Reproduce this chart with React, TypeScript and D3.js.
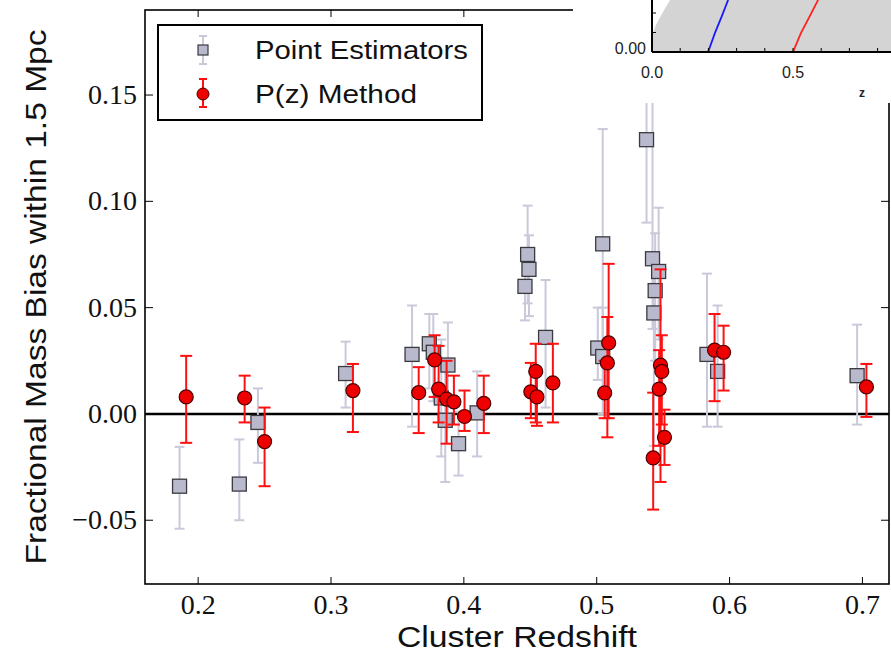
import React from "react";
import * as d3 from "d3";

// Point Estimators (grey squares)
const peZ = [0.186, 0.231, 0.245, 0.311, 0.361, 0.374, 0.377, 0.388, 0.383, 0.386, 0.396, 0.41, 0.448, 0.449, 0.446, 0.4615, 0.5045, 0.5375, 0.542, 0.5466, 0.544, 0.543, 0.5008, 0.5045, 0.583, 0.591, 0.696];
const peV = [-0.034, -0.033, -0.004, 0.019, 0.028, 0.033, 0.029, 0.023, 0.0075, -0.003, -0.014, 0.0005, 0.075, 0.068, 0.06, 0.036, 0.08, 0.129, 0.073, 0.067, 0.058, 0.0475, 0.031, 0.027, 0.028, 0.02, 0.018];
const peLo = [-0.054, -0.05, -0.023, 0.003, -0.006, 0.012, 0.006, -0.005, -0.02, -0.032, -0.029, -0.02, 0.052, 0.046, 0.044, 0.003, 0.024, 0.09, 0.04, 0.035, 0.025, -0.015, 0.016, 0.0, -0.006, -0.006, -0.005];
const peHi = [-0.0155, -0.012, 0.012, 0.034, 0.051, 0.047, 0.047, 0.043, 0.035, 0.02, 0.001, 0.02, 0.098, 0.084, 0.076, 0.063, 0.134, 0.17, 0.17, 0.097, 0.085, 0.075, 0.05, 0.05, 0.066, 0.051, 0.042];

// P(z) Method (red circles)
const pzZ = [0.191, 0.235, 0.25, 0.3165, 0.366, 0.378, 0.381, 0.387, 0.3925, 0.4005, 0.415, 0.4504, 0.4541, 0.455, 0.467, 0.506, 0.509, 0.508, 0.5425, 0.548, 0.549, 0.547, 0.551, 0.5887, 0.5955, 0.703];
const pzV = [0.008, 0.0075, -0.013, 0.011, 0.01, 0.0254, 0.0117, 0.007, 0.0057, -0.0012, 0.005, 0.0104, 0.02, 0.008, 0.0146, 0.0099, 0.0334, 0.024, -0.0207, 0.023, 0.02, 0.0117, -0.011, 0.03, 0.029, 0.0127];
const pzLo = [-0.0136, -0.004, -0.034, -0.0085, -0.009, 0.008, -0.004, -0.014, -0.005, -0.008, -0.009, -0.002, -0.004, -0.0056, -0.004, -0.002, -0.002, -0.011, -0.045, -0.032, -0.005, -0.015, -0.024, 0.006, 0.011, -0.0014];
const pzHi = [0.0273, 0.018, 0.003, 0.0235, 0.022, 0.037, 0.032, 0.025, 0.018, 0.011, 0.018, 0.024, 0.033, 0.02, 0.033, 0.025, 0.0706, 0.0456, 0.01, 0.068, 0.037, 0.03, 0.002, 0.047, 0.0415, 0.0235];

const xTicks = [0.2, 0.3, 0.4, 0.5, 0.6, 0.7];
const yTicks = [-0.05, 0.0, 0.05, 0.1, 0.15];
const legendLabels = ["Point Estimators", "P(z) Method"];

// inset curves
const insetBlueZ = [0.199, 0.223, 0.248, 0.27];
const insetRedZ = [0.5, 0.528, 0.56, 0.589];
const insetCurveY = [0, 0.0097, 0.0185, 0.0267];
const insetEdgeZ = [0, 0, 0.014, 0.039, 0.064];
const insetEdgeY = [0, 0.0087, 0.0138, 0.0205, 0.0267];
const insetXTicks = [0.0, 0.5];
const insetMinor = [0.1, 0.2, 0.3, 0.4, 0.5, 0.6, 0.7, 0.8];

const W = 891, H = 653;
const GREY_BAR = "#c9c9da";
const GREY_FILL = "#b9b9cd";
const RED = "#ff1010";

export default function App() {
  const x = d3.scaleLinear().domain([0.16, 0.72]).range([145, 889]);
  const y = d3.scaleLinear().domain([-0.08, 0.19]).range([584, 10]);
  const fmtY = (v: number) => (v < 0 ? "\u2212" : "") + d3.format(".2f")(Math.abs(v));

  const ix = d3.scaleLinear().domain([0, 0.5]).range([652, 793]);
  const iy = d3.scaleLinear().domain([0, 0.02]).range([52, 13]);
  const line = d3.line<[number, number]>().x((d) => ix(d[0])).y((d) => iy(d[1]));
  const edge = insetEdgeZ.map((z, i) => [z, insetEdgeY[i]] as [number, number]);
  const grayPath =
    line(edge)! + `L${W},${iy(insetEdgeY[insetEdgeY.length - 1])}L${W},${iy(0)}Z`;

  const errBar = (xi: number, lo: number, hi: number, color: string, cap: number, key: string) => (
    <g key={key} stroke={color} strokeWidth={2}>
      <line x1={xi} x2={xi} y1={y(lo)} y2={y(hi)} />
      <line x1={xi - cap} x2={xi + cap} y1={y(lo)} y2={y(lo)} />
      <line x1={xi - cap} x2={xi + cap} y1={y(hi)} y2={y(hi)} />
    </g>
  );

  return (
    <svg width={W} height={H} style={{ position: "absolute", left: 0, top: 0, background: "#fff" }}>
      <rect x={0} y={0} width={W} height={H} fill="#fff" />
      {/* zero line */}
      <line x1={x(0.16)} x2={x(0.72)} y1={y(0)} y2={y(0)} stroke="#000" strokeWidth={2.5} />

      {/* point estimators */}
      {peZ.map((z, i) => errBar(x(z), peLo[i], peHi[i], GREY_BAR, 5, "pe" + i))}
      {peZ.map((z, i) => (
        <rect key={"ps" + i} x={x(z) - 7} y={y(peV[i]) - 7} width={14} height={14}
          fill={GREY_FILL} stroke="#3a3a40" strokeWidth={1.3} />
      ))}

      {/* P(z) method */}
      {pzZ.map((z, i) => errBar(x(z), pzLo[i], pzHi[i], RED, 6, "pz" + i))}
      {pzZ.map((z, i) => (
        <circle key={"pc" + i} cx={x(z)} cy={y(pzV[i])} r={7}
          fill="#ee0000" stroke="#4a0000" strokeWidth={1.2} />
      ))}

      {/* axes frame */}
      <rect x={145} y={10} width={889 - 145} height={584 - 10} fill="none" stroke="#000" strokeWidth={1.6} />
      {xTicks.map((t) => (
        <g key={"xt" + t} stroke="#000" strokeWidth={1}>
          <line x1={x(t)} x2={x(t)} y1={584} y2={577} />
          <line x1={x(t)} x2={x(t)} y1={10} y2={17} />
        </g>
      ))}
      {yTicks.map((t) => (
        <g key={"yt" + t} stroke="#000" strokeWidth={1}>
          <line x1={145} x2={153} y1={y(t)} y2={y(t)} />
          <line x1={889} x2={881} y1={y(t)} y2={y(t)} />
        </g>
      ))}
      {xTicks.map((t) => (
        <text key={"xl" + t} x={x(t)} y={614} textAnchor="middle"
          fontFamily="'Liberation Serif', 'DejaVu Serif', serif" fontSize={28} fill="#111">
          {d3.format(".1f")(t)}
        </text>
      ))}
      {yTicks.map((t) => (
        <text key={"yl" + t} x={137} y={y(t) + 9} textAnchor="end"
          fontFamily="'Liberation Serif', 'DejaVu Serif', serif" fontSize={28} fill="#111">
          {fmtY(t)}
        </text>
      ))}

      {/* axis titles */}
      <text x={517} y={647} textAnchor="middle" fontFamily="'Liberation Sans', Arial, sans-serif"
        fontSize={29} textLength={240} lengthAdjust="spacingAndGlyphs" fill="#111">
        Cluster Redshift
      </text>
      <text transform="translate(46,297) rotate(-90)" textAnchor="middle"
        fontFamily="'Liberation Sans', Arial, sans-serif" fontSize={29} textLength={535}
        lengthAdjust="spacingAndGlyphs" fill="#111">
        Fractional Mass Bias within 1.5 Mpc
      </text>

      {/* legend */}
      <rect x={158} y={25} width={324} height={95} fill="#fff" stroke="#000" strokeWidth={2} />
      <g stroke={GREY_BAR} strokeWidth={2}>
        <line x1={203} x2={203} y1={36} y2={64} />
        <line x1={199} x2={207} y1={36} y2={36} />
        <line x1={199} x2={207} y1={64} y2={64} />
      </g>
      <rect x={198} y={45} width={10} height={10} fill={GREY_FILL} stroke="#3a3a40" strokeWidth={1.2} />
      <g stroke={RED} strokeWidth={2}>
        <line x1={203} x2={203} y1={79} y2={107} />
        <line x1={199} x2={207} y1={79} y2={79} />
        <line x1={199} x2={207} y1={107} y2={107} />
      </g>
      <circle cx={203} cy={94} r={6} fill="#ee0000" stroke="#4a0000" strokeWidth={1} />
      <text x={255} y={59} fontFamily="'Liberation Sans', Arial, sans-serif" fontSize={25}
        textLength={213} lengthAdjust="spacingAndGlyphs" fill="#111">{legendLabels[0]}</text>
      <text x={255} y={103} fontFamily="'Liberation Sans', Arial, sans-serif" fontSize={25}
        textLength={162} lengthAdjust="spacingAndGlyphs" fill="#111">{legendLabels[1]}</text>

      {/* inset */}
      <rect x={573} y={0} width={W - 573} height={103} fill="#fff" />
      <path d={grayPath} fill="#d4d4d4" />
      <path d={line(insetBlueZ.map((z, i) => [z, insetCurveY[i]] as [number, number]))!} fill="none" stroke="#1a1aff" strokeWidth={1.8} />
      <path d={line(insetRedZ.map((z, i) => [z, insetCurveY[i]] as [number, number]))!} fill="none" stroke="#ff2020" strokeWidth={1.8} />
      <line x1={ix(0)} x2={ix(0)} y1={0} y2={iy(0)} stroke="#000" strokeWidth={2} />
      <line x1={ix(0)} x2={W} y1={iy(0)} y2={iy(0)} stroke="#000" strokeWidth={2} />
      {insetMinor.map((t) => (
        <line key={"im" + t} x1={ix(t)} x2={ix(t)} y1={iy(0)} y2={iy(0) - 4} stroke="#000" strokeWidth={1} />
      ))}
      {[0.01, 0.02].map((t) => (
        <line key={"iyt" + t} x1={ix(0)} x2={ix(0) + 4} y1={iy(t)} y2={iy(t)} stroke="#000" strokeWidth={1} />
      ))}
      <text x={646} y={54} textAnchor="end" fontFamily="'Liberation Sans', Arial, sans-serif"
        fontSize={16} fill="#222">0.00</text>
      {insetXTicks.map((t) => (
        <text key={"ixl" + t} x={ix(t)} y={78} textAnchor="middle"
          fontFamily="'Liberation Sans', Arial, sans-serif" fontSize={16} fill="#222">
          {d3.format(".1f")(t)}
        </text>
      ))}
      <text x={862} y={97} textAnchor="middle" fontFamily="'Liberation Sans', Arial, sans-serif"
        fontSize={12} fontWeight="bold" fill="#222">z</text>
    </svg>
  );
}
